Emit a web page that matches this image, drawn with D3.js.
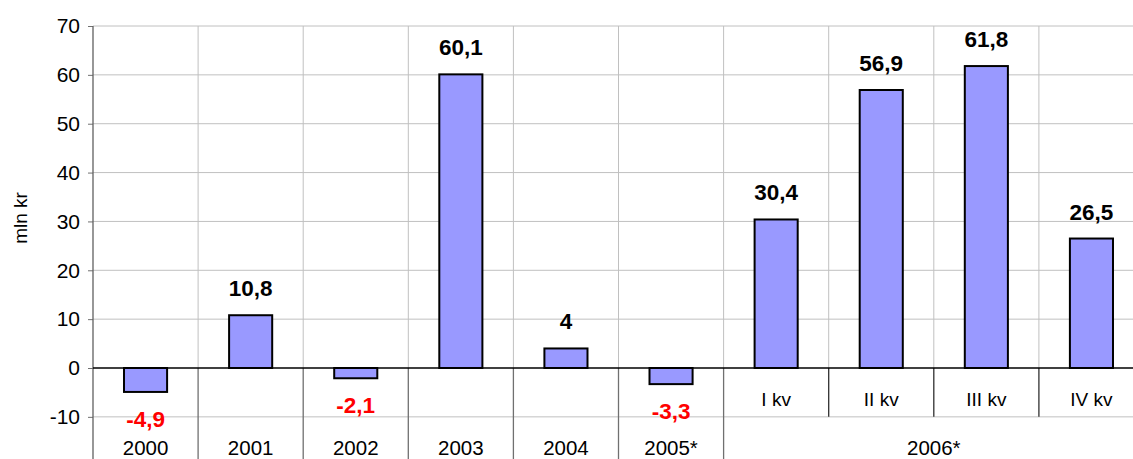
<!DOCTYPE html>
<html><head><meta charset="utf-8">
<script src="https://cdn.jsdelivr.net/npm/d3@7"></script>
<style>body{margin:0;background:#fff}svg{display:block}text{font-family:"Liberation Sans",Arial,sans-serif}</style>
</head><body>
<svg id="c" width="1133" height="459"></svg>
<script>
const categories = ["2000","2001","2002","2003","2004","2005*","I kv","II kv","III kv","IV kv"];
const values = [-4.9,10.8,-2.1,60.1,4,-3.3,30.4,56.9,61.8,26.5];
const valueLabels = ["-4,9","10,8","-2,1","60,1","4","-3,3","30,4","56,9","61,8","26,5"];
const yTicks = [-10,0,10,20,30,40,50,60,70];
const quarterCats = ["I kv","II kv","III kv","IV kv"];
const groupLabel = "2006*";
const yTitle = "mln kr";

const svg = d3.select("#c");
const left = 93, step = 105.1, W = 1133, H = 459;
const x = d3.scaleBand().domain(categories).range([left, left + step*categories.length]).paddingInner(0.59).paddingOuter(0.295);
const y = d3.scaleLinear().domain([0,70]).range([368,26]);
const right = left + step*categories.length;
const grid = "#c0c0c0";

// horizontal gridlines
svg.append("g").selectAll("line").data(yTicks.filter(d=>d!==0)).join("line")
  .attr("x1",left).attr("x2",right).attr("y1",d=>y(d)).attr("y2",d=>y(d))
  .attr("stroke",grid).attr("stroke-width",1);
// vertical gridlines above zero at category boundaries
const bounds = categories.map((c,i)=> x(c) - x.step()*x.paddingInner()/2).slice(1);
svg.append("g").selectAll("line").data(bounds).join("line")
  .attr("x1",d=>d).attr("x2",d=>d).attr("y1",y(70)).attr("y2",y(0))
  .attr("stroke",grid).attr("stroke-width",1);
// separators below zero
svg.append("g").selectAll("line").data(categories.slice(1)).join("line")
  .attr("x1",c=>x(c)-x.step()*x.paddingInner()/2).attr("x2",c=>x(c)-x.step()*x.paddingInner()/2)
  .attr("y1",y(0))
  .attr("y2",(c)=> (quarterCats.includes(c) && c!==quarterCats[0]) ? y(-10) : H+5)
  .attr("stroke",c=> (quarterCats.includes(c) && c!==quarterCats[0]) ? "#303030" : "#707070").attr("stroke-width",1.3);

// y axis
const ya = svg.append("g").attr("transform",`translate(${left},0)`)
  .call(d3.axisLeft(y).tickValues(yTicks).tickSize(5).tickPadding(8).tickFormat(d=>String(d)));
ya.select(".domain").remove();
ya.selectAll(".tick line").attr("stroke","#707070");
ya.selectAll(".tick text").attr("font-size",21).attr("fill","#000").attr("font-family","Liberation Sans, Arial, sans-serif");
svg.append("line").attr("x1",left).attr("x2",left).attr("y1",y(70)).attr("y2",H+5).attr("stroke","#606060").attr("stroke-width",1.3);

// bars
svg.append("g").selectAll("rect").data(values).join("rect")
  .attr("x",(d,i)=>x(categories[i]))
  .attr("width",x.bandwidth())
  .attr("y",d=>y(Math.max(0,d)))
  .attr("height",d=>Math.abs(y(d)-y(0)))
  .attr("fill","#9999ff").attr("stroke","#000").attr("stroke-width",2);

// zero line
svg.append("line").attr("x1",left).attr("x2",right).attr("y1",y(0)).attr("y2",y(0)).attr("stroke","#000").attr("stroke-width",1.5);

// value labels
svg.append("g").selectAll("text").data(values).join("text")
  .attr("x",(d,i)=>x(categories[i])+x.bandwidth()/2)
  .attr("y",d=> d>=0 ? y(d)-19 : y(d)+35)
  .attr("text-anchor","middle").attr("font-size",22.5).attr("font-weight","bold")
  .attr("fill",d=> d>=0 ? "#000" : "#ff0000")
  .text((d,i)=>valueLabels[i]);

// category labels
svg.append("g").selectAll("text").data(categories).join("text")
  .attr("x",c=>x(c)+x.bandwidth()/2)
  .attr("y",c=> quarterCats.includes(c) ? 406 : 455)
  .attr("text-anchor","middle").attr("font-size",c=> quarterCats.includes(c)?19:20.5).attr("fill","#000")
  .text(c=>c);
// group label
const gx = (x(quarterCats[0]) + x(quarterCats[quarterCats.length-1]) + x.bandwidth())/2;
svg.append("text").attr("x",gx).attr("y",455).attr("text-anchor","middle").attr("font-size",20.5).text(groupLabel);

// y title
svg.append("text").attr("transform","translate(27,218) rotate(-90)").attr("text-anchor","middle").attr("font-size",19).text(yTitle);
</script>
</body></html>
